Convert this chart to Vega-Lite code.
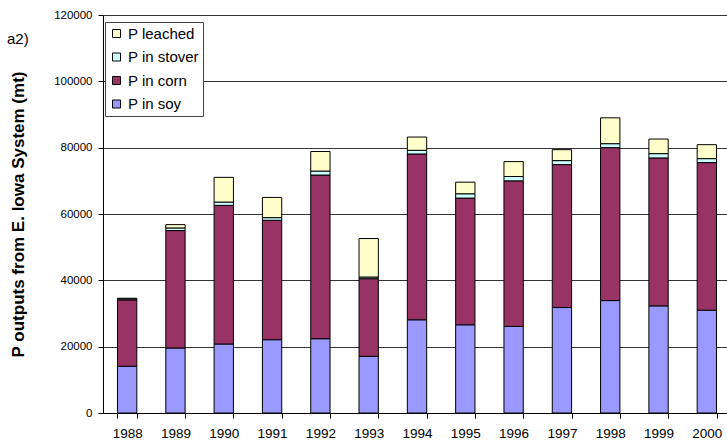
{
  "$schema": "https://vega.github.io/schema/vega-lite/v6.json",
  "autosize": "none",
  "width": 628,
  "height": 398,
  "padding": {"left": 103, "top": 15, "right": 0, "bottom": 33},
  "background": "white",
  "title": {"text": "a2)", "anchor": "start", "frame": "group", "orient": "top", "dx": -96, "dy": 38, "fontSize": 15, "fontWeight": "normal", "font": "Liberation Sans", "color": "black", "offset": 0},
  "data": {"values": [
    {"year": "1988", "type": "P in soy", "ord": 1, "value": 14100},
    {"year": "1988", "type": "P in corn", "ord": 2, "value": 20000},
    {"year": "1988", "type": "P in stover", "ord": 3, "value": 300},
    {"year": "1988", "type": "P leached", "ord": 4, "value": 200},
    {"year": "1989", "type": "P in soy", "ord": 1, "value": 19600},
    {"year": "1989", "type": "P in corn", "ord": 2, "value": 35400},
    {"year": "1989", "type": "P in stover", "ord": 3, "value": 800},
    {"year": "1989", "type": "P leached", "ord": 4, "value": 1000},
    {"year": "1990", "type": "P in soy", "ord": 1, "value": 20800},
    {"year": "1990", "type": "P in corn", "ord": 2, "value": 41800},
    {"year": "1990", "type": "P in stover", "ord": 3, "value": 1000},
    {"year": "1990", "type": "P leached", "ord": 4, "value": 7450},
    {"year": "1991", "type": "P in soy", "ord": 1, "value": 22100},
    {"year": "1991", "type": "P in corn", "ord": 2, "value": 36000},
    {"year": "1991", "type": "P in stover", "ord": 3, "value": 800},
    {"year": "1991", "type": "P leached", "ord": 4, "value": 6100},
    {"year": "1992", "type": "P in soy", "ord": 1, "value": 22400},
    {"year": "1992", "type": "P in corn", "ord": 2, "value": 49350},
    {"year": "1992", "type": "P in stover", "ord": 3, "value": 1200},
    {"year": "1992", "type": "P leached", "ord": 4, "value": 5900},
    {"year": "1993", "type": "P in soy", "ord": 1, "value": 17100},
    {"year": "1993", "type": "P in corn", "ord": 2, "value": 23400},
    {"year": "1993", "type": "P in stover", "ord": 3, "value": 500},
    {"year": "1993", "type": "P leached", "ord": 4, "value": 11600},
    {"year": "1994", "type": "P in soy", "ord": 1, "value": 28100},
    {"year": "1994", "type": "P in corn", "ord": 2, "value": 50000},
    {"year": "1994", "type": "P in stover", "ord": 3, "value": 1100},
    {"year": "1994", "type": "P leached", "ord": 4, "value": 4000},
    {"year": "1995", "type": "P in soy", "ord": 1, "value": 26600},
    {"year": "1995", "type": "P in corn", "ord": 2, "value": 38200},
    {"year": "1995", "type": "P in stover", "ord": 3, "value": 1300},
    {"year": "1995", "type": "P leached", "ord": 4, "value": 3500},
    {"year": "1996", "type": "P in soy", "ord": 1, "value": 26100},
    {"year": "1996", "type": "P in corn", "ord": 2, "value": 43900},
    {"year": "1996", "type": "P in stover", "ord": 3, "value": 1300},
    {"year": "1996", "type": "P leached", "ord": 4, "value": 4500},
    {"year": "1997", "type": "P in soy", "ord": 1, "value": 31800},
    {"year": "1997", "type": "P in corn", "ord": 2, "value": 43100},
    {"year": "1997", "type": "P in stover", "ord": 3, "value": 1200},
    {"year": "1997", "type": "P leached", "ord": 4, "value": 3300},
    {"year": "1998", "type": "P in soy", "ord": 1, "value": 33900},
    {"year": "1998", "type": "P in corn", "ord": 2, "value": 46100},
    {"year": "1998", "type": "P in stover", "ord": 3, "value": 1200},
    {"year": "1998", "type": "P leached", "ord": 4, "value": 7800},
    {"year": "1999", "type": "P in soy", "ord": 1, "value": 32300},
    {"year": "1999", "type": "P in corn", "ord": 2, "value": 44600},
    {"year": "1999", "type": "P in stover", "ord": 3, "value": 1300},
    {"year": "1999", "type": "P leached", "ord": 4, "value": 4400},
    {"year": "2000", "type": "P in soy", "ord": 1, "value": 31000},
    {"year": "2000", "type": "P in corn", "ord": 2, "value": 44500},
    {"year": "2000", "type": "P in stover", "ord": 3, "value": 1200},
    {"year": "2000", "type": "P leached", "ord": 4, "value": 4200}
  ]},
  "mark": {"type": "bar", "stroke": "black", "strokeWidth": 1, "strokeOpacity": 1},
  "encoding": {
    "x": {
      "field": "year", "type": "nominal", "sort": null,
      "scale": {"paddingInner": 0.6, "paddingOuter": 0.3},
      "axis": {"title": null, "labelAngle": 0, "tickBand": "extent", "tickSize": 5, "labelPadding": 8, "labelFontSize": 13.5, "labelFont": "Liberation Sans", "labelColor": "black", "domainColor": "black", "tickColor": "black", "grid": false}
    },
    "y": {
      "field": "value", "type": "quantitative", "stack": "zero",
      "scale": {"domain": [0, 120000], "nice": false},
      "axis": {
        "title": "P outputs from E. Iowa System (mt)", "titleFont": "Liberation Sans", "titleFontSize": 17, "titleFontWeight": "bold", "titleColor": "black", "titlePadding": 26,
        "values": [0, 20000, 40000, 60000, 80000, 100000, 120000], "format": "d",
        "labelFontSize": 11.5, "labelFont": "Liberation Sans", "labelColor": "black", "tickSize": 5, "labelPadding": 6,
        "domainColor": "black", "tickColor": "black", "grid": true, "gridColor": "#333333", "gridOpacity": 1, "gridWidth": 1
      }
    },
    "color": {
      "field": "type", "type": "nominal",
      "scale": {"domain": ["P leached", "P in stover", "P in corn", "P in soy"], "range": ["#FFFFCC", "#CCFFFF", "#993366", "#9999FF"]},
      "legend": {
        "title": null, "orient": "none", "legendX": 2, "legendY": 7,
        "symbolType": "square", "symbolSize": 64, "symbolStrokeColor": "black", "symbolStrokeWidth": 1, "symbolOpacity": 1,
        "labelFont": "Liberation Sans", "labelFontSize": 15, "labelColor": "black", "labelOffset": 4,
        "rowPadding": 7.5, "padding": 4, "strokeColor": "#444444", "fillColor": "white"
      }
    },
    "order": {"field": "ord", "type": "quantitative", "sort": "ascending"}
  },
  "config": {"view": {"stroke": null}, "axis": {"domainWidth": 1}}
}
